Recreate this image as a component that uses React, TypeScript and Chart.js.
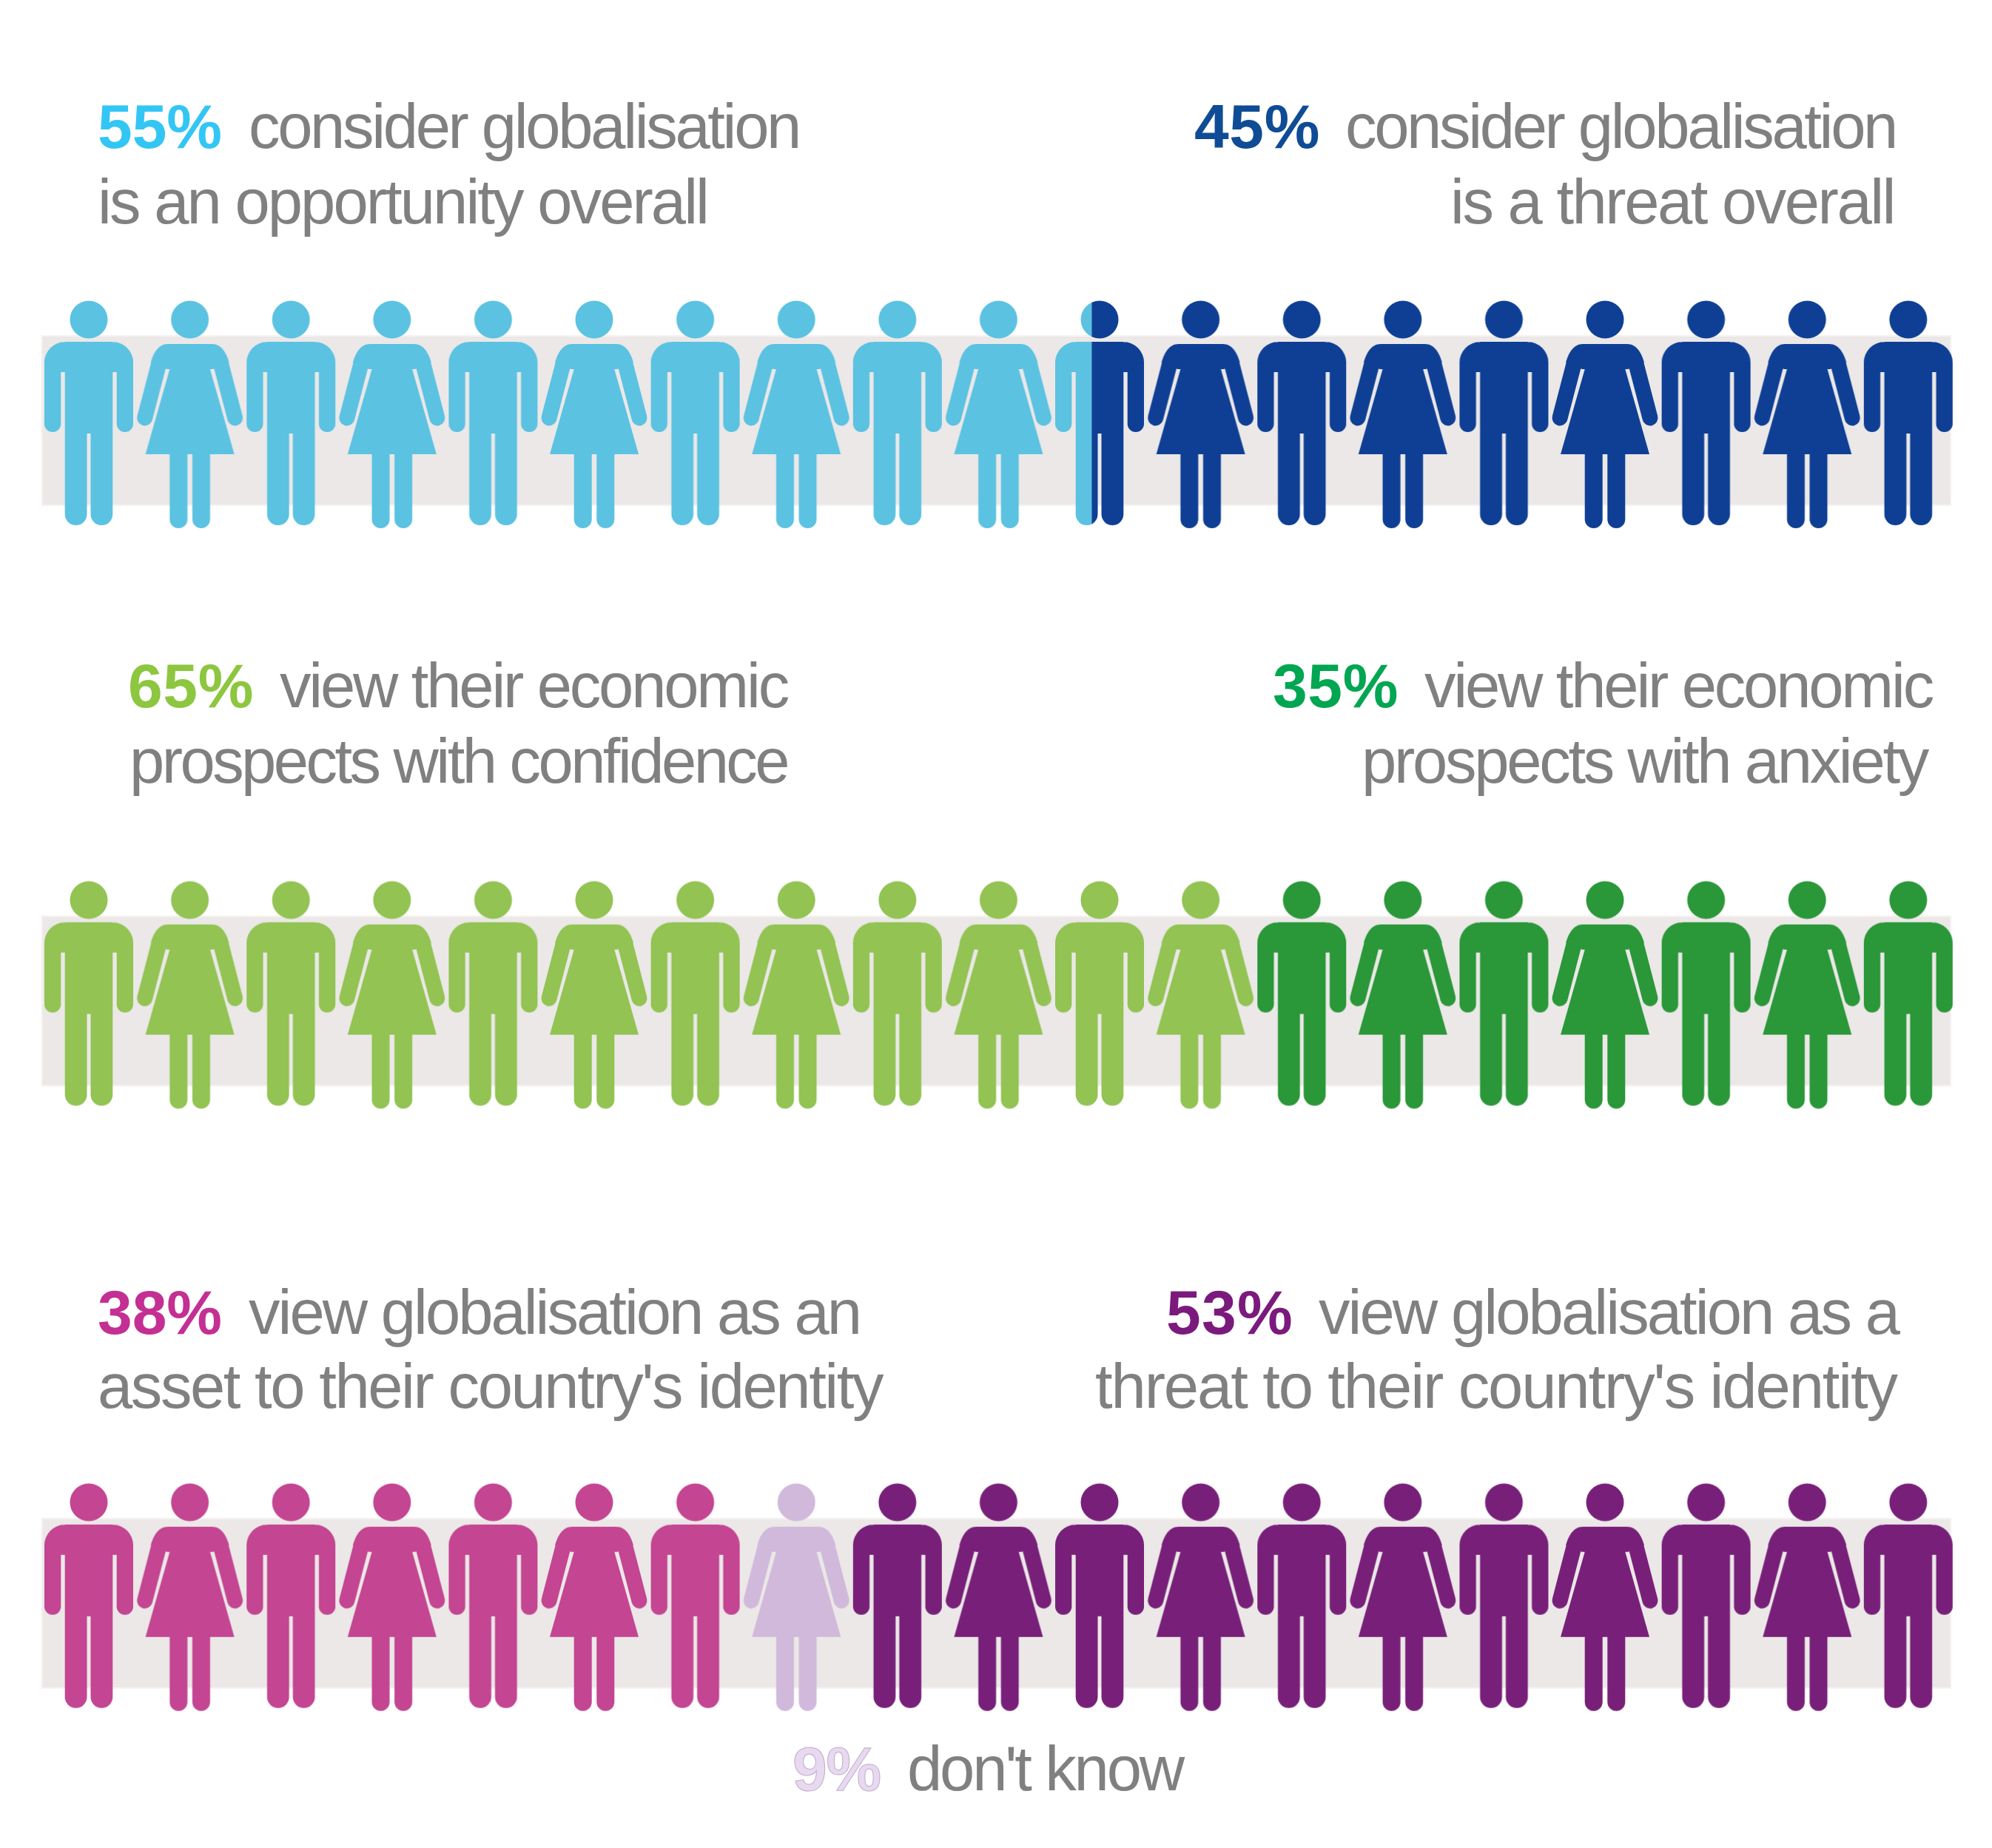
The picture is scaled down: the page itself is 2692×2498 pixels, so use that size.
import React, { useEffect, useRef } from "react";
import { Chart, registerables } from "chart.js";

Chart.register(...registerables);

// ---- data ----
// Each row is 19 figures; a series takes as many figures as it has, in order.
const opportunitySeries = { name: "opportunity", figures: 10.41, color: "#5bc2e1" };
const threatSeries = { name: "threat", figures: 8.59, color: "#0f3f95" };
const confidenceSeries = { name: "confidence", figures: 12, color: "#92c353" };
const anxietySeries = { name: "anxiety", figures: 7, color: "#2a9738" };
const assetSeries = { name: "asset", figures: 7, color: "#c44592" };
const dontKnowSeries = { name: "don't know", figures: 1, color: "#d0b9da" };
const identityThreatSeries = { name: "identity threat", figures: 11, color: "#782079" };

const rowSeries = [
  [opportunitySeries, threatSeries],
  [confidenceSeries, anxietySeries],
  [assetSeries, dontKnowSeries, identityThreatSeries],
];
const rowPositions = [0, 1, 2.0376];

const GREY = "#808080";
type Run = { t: string; x0: number; x1: number; y: number; c: string; bold?: boolean; stroke?: string };
const textRuns: Run[] = [
  { t: "55%", x0: 132, x1: 300, y: 200, c: "#33c6f4", bold: true },
  { t: "consider globalisation", x0: 336, x1: 1080, y: 200, c: GREY },
  { t: "is an opportunity overall", x0: 132, x1: 956, y: 302, c: GREY },
  { t: "45%", x0: 1614, x1: 1784, y: 200, c: "#0f4c95", bold: true },
  { t: "consider globalisation", x0: 1818, x1: 2562, y: 200, c: GREY },
  { t: "is a threat overall", x0: 1960, x1: 2560, y: 302, c: GREY },
  { t: "65%", x0: 173, x1: 343, y: 956, c: "#8dc63f", bold: true },
  { t: "view their economic", x0: 378, x1: 1064, y: 956, c: GREY },
  { t: "prospects with confidence", x0: 175, x1: 1064, y: 1058, c: GREY },
  { t: "35%", x0: 1720, x1: 1890, y: 956, c: "#00a651", bold: true },
  { t: "view their economic", x0: 1925, x1: 2611, y: 956, c: GREY },
  { t: "prospects with anxiety", x0: 1840, x1: 2604, y: 1058, c: GREY },
  { t: "38%", x0: 132, x1: 300, y: 1803, c: "#c42f93", bold: true },
  { t: "view globalisation as an", x0: 336, x1: 1162, y: 1803, c: GREY },
  { t: "asset to their country's identity", x0: 132, x1: 1192, y: 1903, c: GREY },
  { t: "53%", x0: 1576, x1: 1748, y: 1803, c: "#7b1a7d", bold: true },
  { t: "view globalisation as a", x0: 1782, x1: 2565, y: 1803, c: GREY },
  { t: "threat to their country's identity", x0: 1480, x1: 2563, y: 1903, c: GREY },
  { t: "9%", x0: 1071, x1: 1190, y: 2420, c: "#e8d8f0", bold: true, stroke: "#bfaecb" },
  { t: "don't know", x0: 1226, x1: 1598, y: 2420, c: GREY },
];

// ---- layout ----
const WIDTH = 2692;
const HEIGHT = 2498;
const ROW_PX = 784.6;
const FIG_PX = 136.6;
const FIRST_X = 120;
const FIRST_Y = 560; // centre of the first row's figures
const TOTAL = 19;
const SPR_W = 170;
const SPR_H = 330;

// Figures, drawn around their own centre (head at -128, feet at +150..154)
function drawMan(c: CanvasRenderingContext2D) {
  c.beginPath();
  c.arc(0, -128, 25.5, 0, Math.PI * 2);
  c.fill();
  c.beginPath();
  c.roundRect(-60, -98, 120, 41, [28, 28, 0, 0]);
  c.roundRect(-60, -70, 22.3, 94, [0, 0, 11, 11]);
  c.roundRect(37.7, -70, 22.3, 94, [0, 0, 11, 11]);
  c.rect(-32.3, -98, 64.6, 124);
  c.roundRect(-32.3, 20, 29.8, 130, [0, 0, 15, 15]);
  c.roundRect(2.5, 20, 29.8, 130, [0, 0, 15, 15]);
  c.fill();
}

function drawWoman(c: CanvasRenderingContext2D) {
  c.beginPath();
  c.arc(0, -128, 25.5, 0, Math.PI * 2);
  c.fill();
  c.beginPath();
  c.moveTo(-30, -95);
  c.lineTo(30, -95);
  c.bezierCurveTo(42, -95, 49, -84, 53, -70);
  c.lineTo(31, -61);
  c.lineTo(-31, -61);
  c.lineTo(-53, -70);
  c.bezierCurveTo(-49, -84, -42, -95, -30, -95);
  c.fill();
  c.beginPath();
  c.moveTo(-27, -62);
  c.lineTo(27, -62);
  c.lineTo(60, 54);
  c.lineTo(-60, 54);
  c.closePath();
  c.fill();
  c.beginPath();
  c.roundRect(-27.3, 50, 24, 104, [0, 0, 12, 12]);
  c.roundRect(3.3, 50, 24, 104, [0, 0, 12, 12]);
  c.fill();
  c.lineWidth = 21;
  c.lineCap = "round";
  c.strokeStyle = c.fillStyle;
  c.beginPath();
  c.moveTo(-42.5, -66);
  c.lineTo(-61, 5);
  c.moveTo(42.5, -66);
  c.lineTo(61, 5);
  c.stroke();
}

// A sprite of one figure; from/to are the share of its 120px width that is shown
function sprite(index: number, color: string, from: number, to: number) {
  const cv = document.createElement("canvas");
  cv.width = SPR_W;
  cv.height = SPR_H;
  const c = cv.getContext("2d")!;
  c.translate(SPR_W / 2, SPR_H / 2);
  if (from > 0 || to < 1) {
    c.beginPath();
    const l = from > 0 ? -60 + 120 * from : -SPR_W / 2;
    const r = to < 1 ? -60 + 120 * to : SPR_W / 2;
    c.rect(l, -SPR_H / 2, r - l, SPR_H);
    c.clip();
  }
  c.fillStyle = color;
  (c as any).filter = "blur(0.6px)";
  if (index % 2 === 0) drawMan(c);
  else drawWoman(c);
  return cv;
}

function buildDatasets() {
  const sets: any[] = [];
  rowSeries.forEach((series, r) => {
    let start = 0;
    series.forEach((s) => {
      const end = start + s.figures;
      const points: { x: number; y: number }[] = [];
      const styles: HTMLCanvasElement[] = [];
      for (let i = Math.floor(start + 1e-6); i < end - 1e-6 && i < TOTAL; i++) {
        points.push({ x: i, y: rowPositions[r] });
        styles.push(sprite(i, s.color, Math.max(0, start - i), Math.min(1, end - i)));
      }
      sets.push({
        label: s.name,
        data: points,
        pointStyle: styles,
        pointRadius: 60,
        showLine: false,
        clip: false,
        backgroundColor: s.color,
      });
      start = end;
    });
  });
  return sets;
}

const bandPlugin = {
  id: "bands",
  beforeDatasetsDraw(chart: any) {
    const { ctx, scales } = chart;
    ctx.save();
    rowPositions.forEach((p) => {
      const cy = scales.y.getPixelForValue(p);
      const x0 = scales.x.getPixelForValue(-0.4641);
      const x1 = scales.x.getPixelForValue(18.42);
      ctx.fillStyle = "#ebe8e7";
      ctx.fillRect(x0, cy - 106, x1 - x0, 229);
      ctx.strokeStyle = "#f5f2f1";
      ctx.lineWidth = 2;
      ctx.strokeRect(x0, cy - 106, x1 - x0, 229);
    });
    ctx.restore();
  },
};

const textPlugin = {
  id: "texts",
  afterDraw(chart: any) {
    const { ctx } = chart;
    ctx.save();
    ctx.textAlign = "left";
    ctx.textBaseline = "alphabetic";
    textRuns.forEach((run) => {
      ctx.font = `${run.bold ? "bold 84px" : "85px"} "Liberation Sans", Arial, sans-serif`;
      (ctx as any).letterSpacing = "0px";
      const w = ctx.measureText(run.t).width;
      (ctx as any).letterSpacing = `${(run.x1 - run.x0 - w) / run.t.length}px`;
      ctx.fillStyle = run.c;
      ctx.fillText(run.t, run.x0, run.y);
      if (run.stroke) {
        ctx.strokeStyle = run.stroke;
        ctx.lineWidth = 1;
        ctx.strokeText(run.t, run.x0, run.y);
      }
    });
    ctx.restore();
  },
};

export default function App() {
  const ref = useRef<HTMLCanvasElement>(null);
  useEffect(() => {
    const chart = new Chart(ref.current!, {
      type: "scatter",
      data: { datasets: buildDatasets() },
      options: {
        responsive: false,
        animation: false,
        events: [],
        layout: { padding: 0, autoPadding: false },
        plugins: { legend: { display: false }, tooltip: { enabled: false }, title: { display: false } },
        scales: {
          x: {
            type: "linear",
            display: false,
            min: -FIRST_X / FIG_PX,
            max: (WIDTH - FIRST_X) / FIG_PX,
          },
          y: {
            type: "linear",
            display: false,
            reverse: true,
            min: -FIRST_Y / ROW_PX,
            max: (HEIGHT - FIRST_Y) / ROW_PX,
          },
        },
      },
      plugins: [bandPlugin, textPlugin],
    } as any);
    return () => chart.destroy();
  }, []);
  return (
    <div style={{ position: "absolute", left: 0, top: 0, width: WIDTH, height: HEIGHT, background: "#fff" }}>
      <canvas ref={ref} width={WIDTH} height={HEIGHT} style={{ display: "block" }} />
    </div>
  );
}
